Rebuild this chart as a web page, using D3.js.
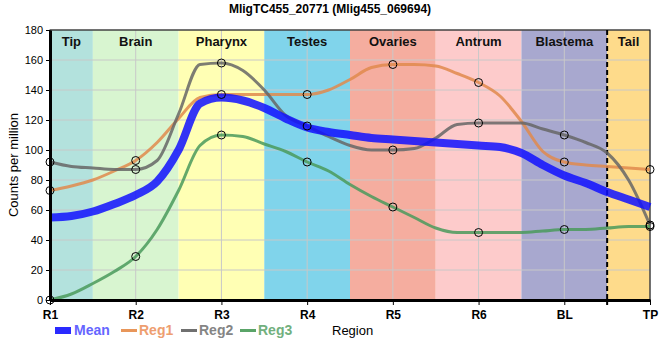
<!DOCTYPE html>
<html><head><meta charset="utf-8">
<script src="https://cdn.jsdelivr.net/npm/d3@7"></script>
<style>body{margin:0;background:#fff;font-family:"Liberation Sans",Arial,sans-serif;}</style>
</head><body><svg id="c" width="660" height="360"></svg>
<script>
const categories = ["R1","R2","R3","R4","R5","R6","BL","TP"];
const regions = ["Tip","Brain","Pharynx","Testes","Ovaries","Antrum","Blastema","Tail"];
const regionColors = ["#b3e2dd","#d8f5d0","#ffffb4","#80d4eb","#f5ad9f","#fdcbcb","#a8a8cf","#fedb8b"];
// curve samples read at quarter-region steps; every 4th sample is a region centre (marked with a circle)
const reg1 = [73,76,80,86,93,105,121,135,137,137,137,137,137,140,147,155,157,157,156,151,145,136,119,99,92,90,89,88,87];
const reg2 = [92,89,88,87,87,93,124,157,158,153,140,123,116,109,103,100,100,101,108,117,118,118,118,114,110,105,98,80,50];
const reg3 = [0,4,11,19,29,47,73,103,110,109,104,99,92,86,77,69,62,55,48,45,45,45,45,46,47,47,48,49,49];
const mean = [55,56,59,64,70,79,100,131,135,133,128,121,115,112,110,108,107,106,105,104,103,102,98,90,83,78,72,67,62];
const yTicks = [0,20,40,60,80,100,120,140,160,180];

const svg = d3.select("#c");
const m = {l:50, r:10, t:30, b:60};
const W = 660, H = 360;
const x = d3.scalePoint().domain(categories).range([m.l, W-m.r]);
const xs = d3.scaleLinear().domain([0, reg1.length-1]).range([m.l, W-m.r]);
const y = d3.scaleLinear().domain([0,180]).range([H-m.b, m.t]);
const step = x.step();

function bandEdges(i){
  const x0 = i===0 ? x(categories[0]) : x(categories[i]) - step/2;
  const x1 = i===regions.length-1 ? x(categories[i]) : x(categories[i]) + step/2;
  return [x0,x1];
}
regions.forEach((r,i)=>{
  const [x0,x1] = bandEdges(i);
  svg.append("rect").attr("x",x0).attr("y",y(180)).attr("width",x1-x0).attr("height",y(0)-y(180)).attr("fill",regionColors[i]);
});
svg.append("g").selectAll("line").data(yTicks).join("line")
  .attr("x1",x.range()[0]).attr("x2",x.range()[1]).attr("y1",d=>y(d)).attr("y2",d=>y(d))
  .attr("stroke","#c8c8c8").attr("stroke-width",1);
svg.append("g").selectAll("line").data(categories).join("line")
  .attr("x1",d=>x(d)).attr("x2",d=>x(d)).attr("y1",y(0)).attr("y2",y(180))
  .attr("stroke","#c8c8c8").attr("stroke-width",1);
regions.forEach((r,i)=>{
  const [x0,x1] = bandEdges(i);
  svg.append("text").attr("x",(x0+x1)/2).attr("y",46).attr("text-anchor","middle")
    .attr("font-size",13).attr("font-weight","bold").attr("fill","#111").text(r);
});
svg.append("rect").attr("x",x.range()[0]).attr("y",y(180)).attr("width",x.range()[1]-x.range()[0]).attr("height",y(0)-y(180))
  .attr("fill","none").attr("stroke","#000").attr("stroke-width",1);
const tx = x("TP") - step/2;
svg.append("line").attr("x1",tx).attr("x2",tx).attr("y1",y(180)).attr("y2",y(0)+5)
  .attr("stroke","#000").attr("stroke-width",2).attr("stroke-dasharray","5,3");

const line = d3.line().x((d,i)=>xs(i)).y(d=>y(d)).curve(d3.curveMonotoneX);
svg.append("path").attr("d",line(reg1)).attr("fill","none").attr("stroke","#e08a4c").attr("stroke-opacity",0.85).attr("stroke-width",3);
svg.append("path").attr("d",line(reg2)).attr("fill","none").attr("stroke","#666").attr("stroke-opacity",0.85).attr("stroke-width",3);
svg.append("path").attr("d",line(reg3)).attr("fill","none").attr("stroke","#4a9a5c").attr("stroke-opacity",0.85).attr("stroke-width",3);
svg.append("path").attr("d",line(mean)).attr("fill","none").attr("stroke","#1010ff").attr("stroke-opacity",0.85).attr("stroke-width",8);
[reg1,reg2,reg3].forEach(s=>{
  const pts = s.filter((d,i)=>i%4===0);
  svg.append("g").selectAll("circle").data(pts).join("circle")
    .attr("cx",(d,i)=>x(categories[i])).attr("cy",d=>y(d)).attr("r",4)
    .attr("fill","none").attr("stroke","#000").attr("stroke-width",1);
});

const ya = svg.append("g").attr("transform",`translate(${m.l},0)`)
  .call(d3.axisLeft(y).tickValues(yTicks).tickSize(4).tickSizeOuter(0));
ya.select(".domain").attr("stroke-width",3);
ya.selectAll("text").attr("font-size",11).attr("font-family","Liberation Sans, Arial").attr("fill","#000");
const xa = svg.append("g").attr("transform",`translate(0,${y(0)})`)
  .call(d3.axisBottom(x).tickSize(5).tickSizeOuter(0));
xa.select(".domain").attr("stroke-width",3);
xa.selectAll("text").attr("font-size",12).attr("font-weight","bold").attr("font-family","Liberation Sans, Arial").attr("fill","#000").attr("dy","0.9em");

svg.append("text").attr("x",330).attr("y",13).attr("text-anchor","middle").attr("font-size",12).attr("font-weight","bold").text("MligTC455_20771 (Mlig455_069694)");
svg.append("text").attr("transform","translate(18,165) rotate(-90)").attr("text-anchor","middle").attr("font-size",13).text("Counts per million");

const lg = svg.append("g");
lg.append("rect").attr("x",55).attr("y",327).attr("width",16).attr("height",7).attr("fill","#2a2aff");
lg.append("text").attr("x",74).attr("y",335).attr("font-size",14).attr("font-weight","bold").attr("fill","#6565ff").text("Mean");
const items = [["Reg1",121,"#e8965a","#ee9e70"],["Reg2",181,"#707070","#858585"],["Reg3",240,"#5aa468","#72b07e"]];
items.forEach(([t,lx,c,tc])=>{
  lg.append("line").attr("x1",lx).attr("x2",lx+16).attr("y1",330.5).attr("y2",330.5).attr("stroke",c).attr("stroke-width",3);
  lg.append("text").attr("x",lx+18).attr("y",335).attr("font-size",14).attr("font-weight","bold").attr("fill",tc).text(t);
});
lg.append("text").attr("x",332).attr("y",335).attr("font-size",13).attr("fill","#000").text("Region");
</script></body></html>
